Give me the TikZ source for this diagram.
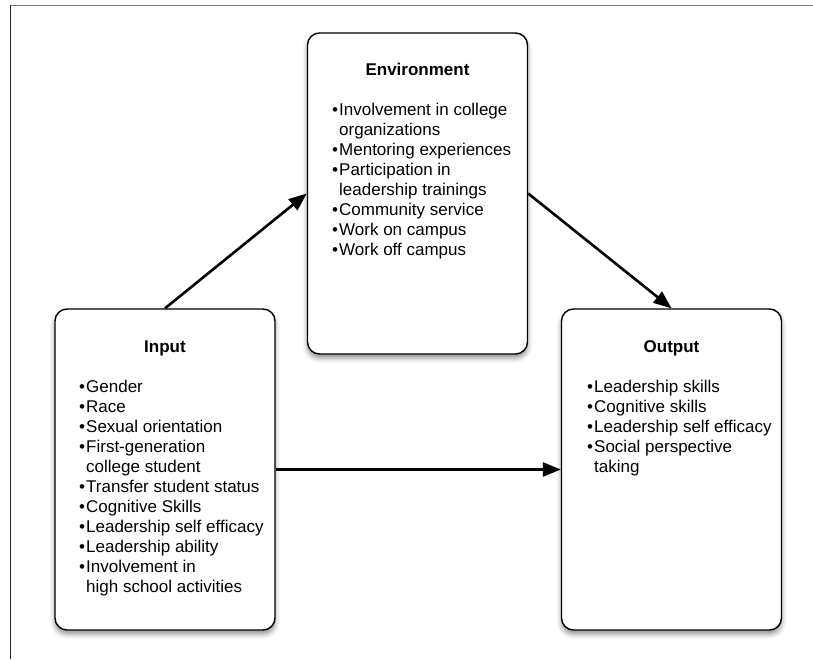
\documentclass[tikz,border=0pt]{standalone}
\usepackage{fontspec}
\setmainfont{Liberation Sans}
\usetikzlibrary{arrows.meta,calc,positioning,shadows.blur}

\newcommand{\itembul}{\makebox[7pt][l]{\textbullet}}
\newcommand{\itemcont}{\hspace*{7pt}}

\begin{document}
\begin{tikzpicture}[x=1pt,y=-1pt,
    panel/.style={draw, line width=1.4pt, fill=white, rounded corners=12pt,
      minimum width=220pt, minimum height=321pt, inner sep=0pt,
      blur shadow={shadow xshift=0pt, shadow yshift=-4pt, shadow blur radius=5pt, shadow opacity=45}},
    paneltitle/.style={anchor=base, inner sep=0pt, font=\fontsize{17}{20}\selectfont\bfseries},
    itemtext/.style={anchor=base west, inner sep=0pt, font=\fontsize{17}{20}\selectfont},
    flow/.style={line width=2.6pt, -{Triangle[length=18pt,width=14pt]}}]
  \useasboundingbox (0,0) rectangle (813,659);
  % frame
  \draw[gray, line width=1.5pt] (10,5.5) -- (813,5.5);
  \draw[black!85, line width=1.2pt] (10.5,5) -- (10.5,659);

  % boxes
  \node[panel] (input) at (165,469.5) {};
  \node[panel] (env) at (417.5,193.5) {};
  \node[panel] (output) at (671.5,469.5) {};

  \node[paneltitle] (input-title) at (165,352.7) {Input};
  \node[paneltitle] (env-title) at (417.5,75.7) {Environment};
  \node[paneltitle] (output-title) at (671.5,352.7) {Output};

  \foreach \i/\txt in {0/\itembul Gender, 1/\itembul Race, 2/\itembul Sexual orientation,
      3/\itembul First-generation, 4/\itemcont college student, 5/\itembul Transfer student status,
      6/\itembul Cognitive Skills, 7/\itembul Leadership self efficacy, 8/\itembul Leadership ability,
      9/\itembul Involvement in, 10/\itemcont high school activities} {
    \node[itemtext] (input-\i) at ({79},{392.7+20*\i}) {\txt};
  }
  \foreach \i/\txt in {0/\itembul Involvement in college, 1/\itemcont organizations,
      2/\itembul Mentoring experiences, 3/\itembul Participation in, 4/\itemcont leadership trainings,
      5/\itembul Community service, 6/\itembul Work on campus, 7/\itembul Work off campus} {
    \node[itemtext] (env-\i) at ({332},{115+20*\i}) {\txt};
  }
  \foreach \i/\txt in {0/\itembul Leadership skills, 1/\itembul Cognitive skills,
      2/\itembul Leadership self efficacy, 3/\itembul Social perspective, 4/\itemcont taking} {
    \node[itemtext] (output-\i) at ({587},{392.7+20*\i}) {\txt};
  }

  % arrows
  \draw[flow] (input.north) -- (env.west);
  \draw[flow] (env.east) -- (output.north);
  \draw[flow] (input.east) -- (output.west);
\end{tikzpicture}
\end{document}
